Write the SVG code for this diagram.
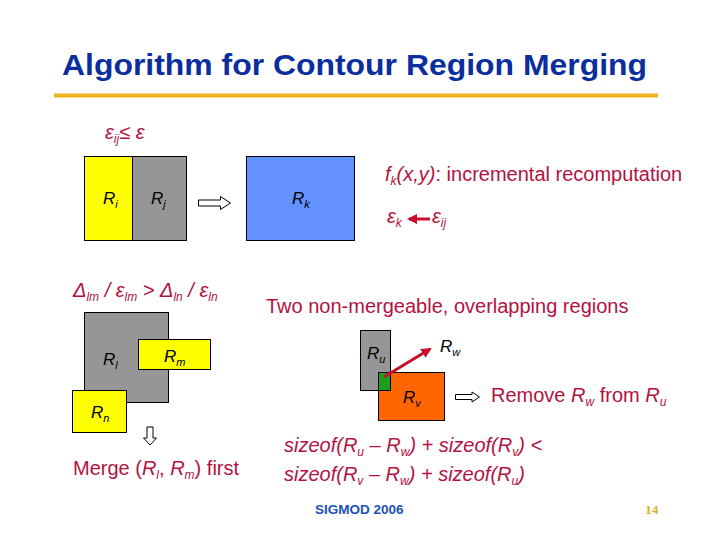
<svg xmlns="http://www.w3.org/2000/svg" width="720" height="540" viewBox="0 0 720 540">
<defs>
<style>
.t{font-family:"Liberation Sans",Arial,sans-serif;fill:#B3123F;font-size:20px}
.i{font-style:italic}
.lbl{font-family:"Liberation Sans",Arial,sans-serif;font-style:italic;fill:#000;font-size:17px}
.box{stroke:#000;stroke-width:1}
.ha{fill:#fff;stroke:#000;stroke-width:1}
.ra{stroke:#C8102E;stroke-width:3;fill:none}
</style>
<marker id="rh" viewBox="0 0 10 10" refX="8" refY="5" markerWidth="3.5" markerHeight="3.5" orient="auto">
<path d="M0,0 L10,5 L0,10 Z" fill="#C8102E"/>
</marker>
</defs>
<rect width="720" height="540" fill="#fff"/>
<g id="title">
<text x="62" y="75" font-family="Liberation Sans,Arial,sans-serif" font-weight="bold" font-size="30" fill="#0B2E9E" textLength="585" lengthAdjust="spacingAndGlyphs">Algorithm for Contour Region Merging</text>
<rect x="54" y="93.5" width="604" height="4" fill="#F0B41E"/>
</g>
<g id="cond1">
<text class="t i" x="105" y="139" font-size="21">ε<tspan dy="4" font-size="12">ij</tspan><tspan dy="-4">≤ ε</tspan></text>
</g>
<g id="Ri"><rect class="box" x="84.5" y="156.5" width="48" height="84" fill="#FFFF00"/><text class="lbl" x="103" y="204">R<tspan dy="4" font-size="11">i</tspan></text></g>
<g id="Rj"><rect class="box" x="132.5" y="156.5" width="54" height="84" fill="#969696"/><text class="lbl" x="151" y="204">R<tspan dy="4" font-size="11">j</tspan></text></g>
<g id="Rk"><rect class="box" x="246.5" y="156.5" width="108" height="84" fill="#6391FF"/><text class="lbl" x="292" y="204">R<tspan dy="4" font-size="11">k</tspan></text></g>
<g id="fk">
<text class="t" x="385" y="181"><tspan class="i">f</tspan><tspan class="i" dy="4" font-size="12">k</tspan><tspan dy="-4" class="i">(x,y)</tspan>: incremental recomputation</text>
</g>
<g id="ek"><text class="t i" x="387" y="223" font-size="21">ε<tspan dy="4" font-size="12">k</tspan></text></g>
<g id="eij"><text class="t i" x="432" y="223" font-size="21">ε<tspan dy="4" font-size="12">ij</tspan></text></g>
<g id="cond2">
<text class="t i" x="73" y="297">Δ<tspan dy="4" font-size="12">lm</tspan><tspan dy="-4"> / ε</tspan><tspan dy="4" font-size="12">lm</tspan><tspan dy="-4"> &gt; Δ</tspan><tspan dy="4" font-size="12">ln</tspan><tspan dy="-4"> / ε</tspan><tspan dy="4" font-size="12">ln</tspan></text>
</g>
<g id="Rl"><rect class="box" x="84.5" y="312.5" width="84" height="90" fill="#969696"/><text class="lbl" x="103" y="365">R<tspan dy="4" font-size="11">l</tspan></text></g>
<g id="Rm"><rect class="box" x="138.5" y="339.5" width="72" height="30" fill="#FFFF00"/><text class="lbl" x="164" y="362">R<tspan dy="4" font-size="11">m</tspan></text></g>
<g id="Rn"><rect class="box" x="72.5" y="390.5" width="54" height="42" fill="#FFFF00"/><text class="lbl" x="91" y="418">R<tspan dy="4" font-size="11">n</tspan></text></g>
<g id="merge"><text class="t" x="73" y="475">Merge (<tspan class="i">R</tspan><tspan class="i" dy="4" font-size="12">l</tspan><tspan dy="-4">, </tspan><tspan class="i">R</tspan><tspan class="i" dy="4" font-size="12">m</tspan><tspan dy="-4">) first</tspan></text></g>
<g id="two"><text class="t" x="266" y="313">Two non-mergeable, overlapping regions</text></g>
<g id="Ru"><rect class="box" x="360.5" y="330.5" width="30" height="60" fill="#969696"/><text class="lbl" x="367" y="359">R<tspan dy="4" font-size="11">u</tspan></text></g>
<g id="Rv"><rect class="box" x="378.5" y="372.5" width="66" height="48" fill="#FF6600"/><rect x="378.5" y="372.5" width="12" height="18" fill="#1CA01C" stroke="#000" stroke-width="1"/><text class="lbl" x="403" y="403">R<tspan dy="4" font-size="11">v</tspan></text></g>
<g id="Rw"><text class="lbl" x="440" y="352">R<tspan dy="4" font-size="11">w</tspan></text></g>
<g id="remove"><text class="t" x="491" y="402">Remove <tspan class="i">R</tspan><tspan class="i" dy="4" font-size="12">w</tspan><tspan dy="-4"> from </tspan><tspan class="i">R</tspan><tspan class="i" dy="4" font-size="12">u</tspan></text></g>
<g id="sizeof">
<text class="t i" x="284" y="452">sizeof(R<tspan dy="4" font-size="12">u</tspan><tspan dy="-4"> – R</tspan><tspan dy="4" font-size="12">w</tspan><tspan dy="-4">) + sizeof(R</tspan><tspan dy="4" font-size="12">v</tspan><tspan dy="-4">) &lt;</tspan></text>
<text class="t i" x="284" y="481">sizeof(R<tspan dy="4" font-size="12">v</tspan><tspan dy="-4"> – R</tspan><tspan dy="4" font-size="12">w</tspan><tspan dy="-4">) + sizeof(R</tspan><tspan dy="4" font-size="12">u</tspan><tspan dy="-4">)</tspan></text>
</g>
<g id="footer">
<text x="315" y="514" font-family="Liberation Sans,Arial,sans-serif" font-weight="bold" font-size="13.5" fill="#2250B4">SIGMOD 2006</text>
<text x="645" y="514" font-family="Liberation Serif,Times New Roman,serif" font-weight="bold" font-size="13.5" fill="#D4B232">14</text>
</g>
<g id="connectors">
<path class="ha" d="M198.5,200 H220.5 V196.5 L230.5,203 L220.5,209.5 V206 H198.5 Z"/>
<path class="ha" d="M147,427 V438 H143.5 L150,445 L156.5,438 H153 V427 Z"/>
<path class="ha" d="M455.5,394.5 H472 V392 L479.5,397 L472,402 V399.5 H455.5 Z"/>
<line class="ra" x1="430" y1="219" x2="409" y2="219" marker-end="url(#rh)"/>
<line class="ra" x1="384" y1="377" x2="430" y2="349" marker-end="url(#rh)"/>
</g>
</svg>
